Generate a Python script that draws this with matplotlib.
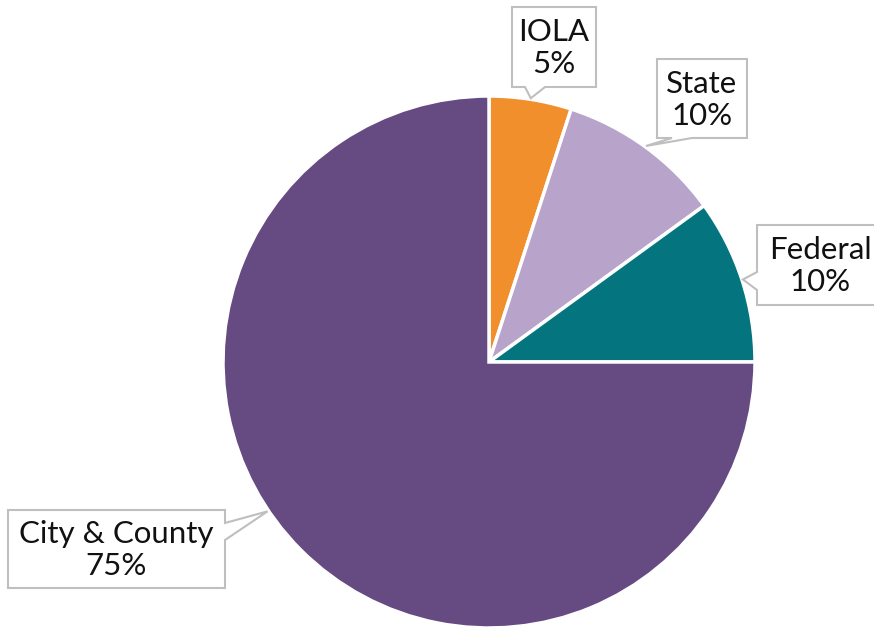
import numpy as np
import matplotlib
matplotlib.use("Agg")
import matplotlib.pyplot as plt
from matplotlib.patches import Polygon

# ---- data ----
categories = ["IOLA", "State", "Federal", "City & County"]
values = [5, 10, 10, 75]
colors = ["#F28F2D", "#B8A3CB", "#04757E", "#664A82"]

W, H = 874, 628
CX, CY, R = 489, 362, 266  # pixel layout (y from top)

fig = plt.figure(figsize=(W / 100, H / 100), dpi=100)
ax = fig.add_axes([0, 0, 1, 1])

def py(y):
    return H - y

ax.pie(values, colors=colors, startangle=90, counterclock=False,
       center=(CX, py(CY)), radius=R,
       wedgeprops=dict(edgecolor="white", linewidth=2.5))
ax.set_xlim(0, W)
ax.set_ylim(0, H)
ax.set_aspect("equal")
ax.axis("off")

# callout layout: box (x0, y0, x1, y1) in pixels, side of pointer, base span, tip angle
callouts = [
    dict(box=(512, 7, 596, 87), side="bottom", base=(525, 545), ang=81, tc=(554, 48)),
    dict(box=(657, 59, 747, 138), side="bottom", base=(672, 692), ang=54, tc=(702, 100)),
    dict(box=(757, 225, 890, 305), side="left", base=(272, 290), ang=18, tc=(820, 266)),
    dict(box=(8, 510, 225, 588), side="right", base=(523, 540), ang=214, tc=(116, 550)),
]

for cat, val, c in zip(categories, values, callouts):
    x0, y0, x1, y1 = c["box"]
    a = np.deg2rad(c["ang"])
    tx = CX + (R + 1) * np.cos(a)
    ty = CY - (R + 1) * np.sin(a)
    b0, b1 = c["base"]
    if c["side"] == "bottom":
        pts = [(x0, y0), (x1, y0), (x1, y1), (b1, y1), (tx, ty), (b0, y1), (x0, y1)]
    elif c["side"] == "left":
        pts = [(x0, y0), (x1, y0), (x1, y1), (x0, y1), (x0, b1), (tx, ty), (x0, b0)]
    else:  # right
        pts = [(x0, y0), (x1, y0), (x1, b0), (tx, ty), (x1, b1), (x1, y1), (x0, y1)]
    pts = [(p[0], py(p[1])) for p in pts]
    ax.add_patch(Polygon(pts, closed=True, facecolor="white",
                         edgecolor="#BFBFBF", linewidth=1.5, zorder=5))
    ax.text(c["tc"][0], py(c["tc"][1]), f"{cat}\n{val}%", ha="center", va="center",
            fontsize=22.5, family=["Lato", "DejaVu Sans"], color="#111111",
            linespacing=1.2, zorder=6)

fig.savefig("out.png", dpi=100)
